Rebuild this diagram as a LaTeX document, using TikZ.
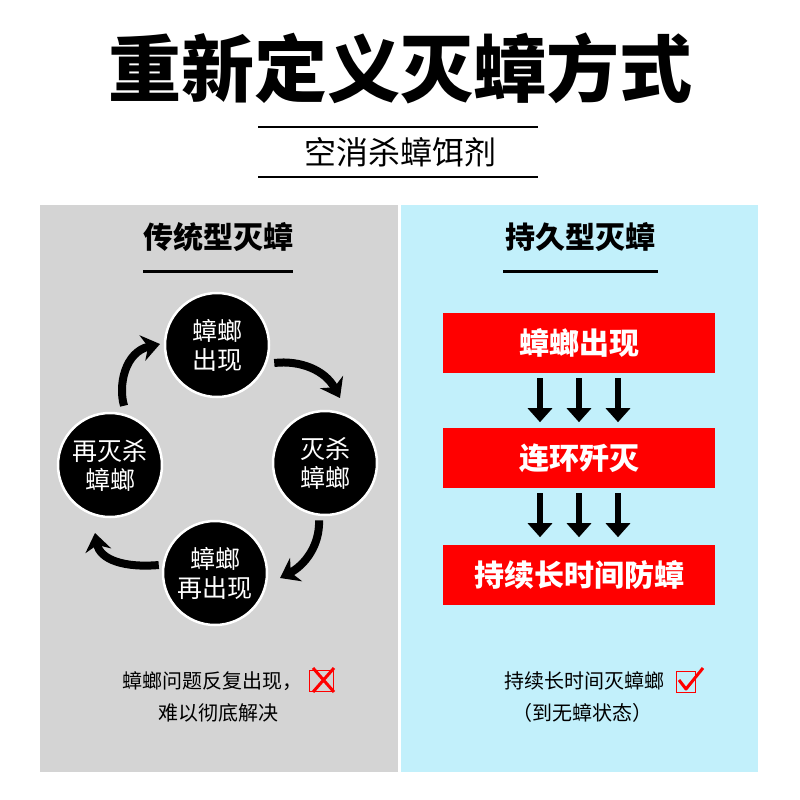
\documentclass[tikz,border=0pt]{standalone}
\usepackage{fontspec}
\setmainfont{Noto Sans CJK SC}
\usetikzlibrary{arrows.meta, positioning}
\definecolor{panelgray}{HTML}{D4D4D4}
\definecolor{panelblue}{HTML}{C2F0FB}
\definecolor{boxred}{HTML}{FF0000}

\begin{document}
\begin{tikzpicture}[x=1pt, y=-1pt,
    blob/.style={circle, fill=black, draw=white, line width=2.5pt, minimum size=104pt, inner sep=0pt, align=center, text=white, font=\fontsize{25}{29}\selectfont},
    redbox/.style={rectangle, fill=boxred, minimum width=272pt, minimum height=60pt, text=white, font=\fontsize{30}{34}\selectfont\bfseries},
    heading/.style={font=\fontsize{30}{34}\selectfont\bfseries},
    note/.style={font=\fontsize{20}{26}\selectfont, align=center},
    curl/.style={line width=8pt, -{Stealth[length=18pt, width=26pt]}},
    down/.style={line width=6pt, -{Triangle[length=14pt, width=24pt]}}
]
\useasboundingbox (0,0) rectangle (800,800);
\fill[white] (0,0) rectangle (800,800);

% Title
\node[font=\fontsize{73}{78}\selectfont\bfseries] (title) at (400,68) {重新定义灭蟑方式};
\draw[line width=1.5pt] (258,127) -- (538,127);
\draw[line width=1.5pt] (258,177) -- (538,177);
\node[font=\fontsize{32}{36}\selectfont] (sub) at (400,152) {空消杀蟑饵剂};

% Panels
\fill[panelgray] (40,205) rectangle (398,772);
\fill[panelblue] (401,205) rectangle (758,772);

\node[heading] (lefthead) at (218,237) {传统型灭蟑};
\draw[line width=3pt] (143,271) -- (293,271);
\node[heading] (righthead) at (580,237) {持久型灭蟑};
\draw[line width=3pt] (503,271) -- (658,271);

% Cycle
\node[blob] (appear) at (217,345) {蟑螂\\出现};
\node[blob] (kill) at (325,463) {灭杀\\蟑螂};
\node[blob] (again) at (215,573) {蟑螂\\再出现};
\node[blob] (rekill) at (110,465) {再灭杀\\蟑螂};

\draw[curl] (appear.east) ++(4,18) coordinate (a1) .. controls (300,360) and (325,370) .. (340,398);
\draw[curl] (kill.south) ++(-6,4) coordinate (a2) .. controls (320,545) and (305,565) .. (280,578);
\draw[curl] (again.west) ++(-3,-8) coordinate (a3) .. controls (125,568) and (100,560) .. (95,533);
\draw[curl] (rekill.north) ++(14,-6) coordinate (a4) .. controls (118,385) and (125,352) .. (160,344);

% Right column
\node[redbox] (seen) at (579,343) {蟑螂出现};
\node[redbox] (wipe) at (579,458) {连环歼灭};
\node[redbox] (guard) at (579,575) {持续长时间防蟑};
\foreach \dx in {-39,0,39} {
    \draw[down] ([xshift=\dx pt]seen.south) ++(0,5) -- ++(0,44);
    \draw[down] ([xshift=\dx pt]wipe.south) ++(0,5) -- ++(0,44);
}

% Notes
\node[note, anchor=east] (leftnote) at (306,681) {蟑螂问题反复出现，};
\node[note] (leftnote2) at (218,713) {难以彻底解决};
\draw[red, line width=1pt] (309,670) rectangle (333,691);
\draw[red, line width=3pt] (313,668) -- (334,692) (334,668) -- (313,692);

\node[note] (rightnote) at (584,681) {持续长时间灭蟑螂};
\node[note] (rightnote2) at (582,713) {（到无蟑状态）};
\draw[red, line width=0.8pt] (676,671) rectangle (695,692);
\draw[red, line width=3pt, line join=round] (679,680) -- (686,689) -- (703,668);
\end{tikzpicture}
\end{document}
